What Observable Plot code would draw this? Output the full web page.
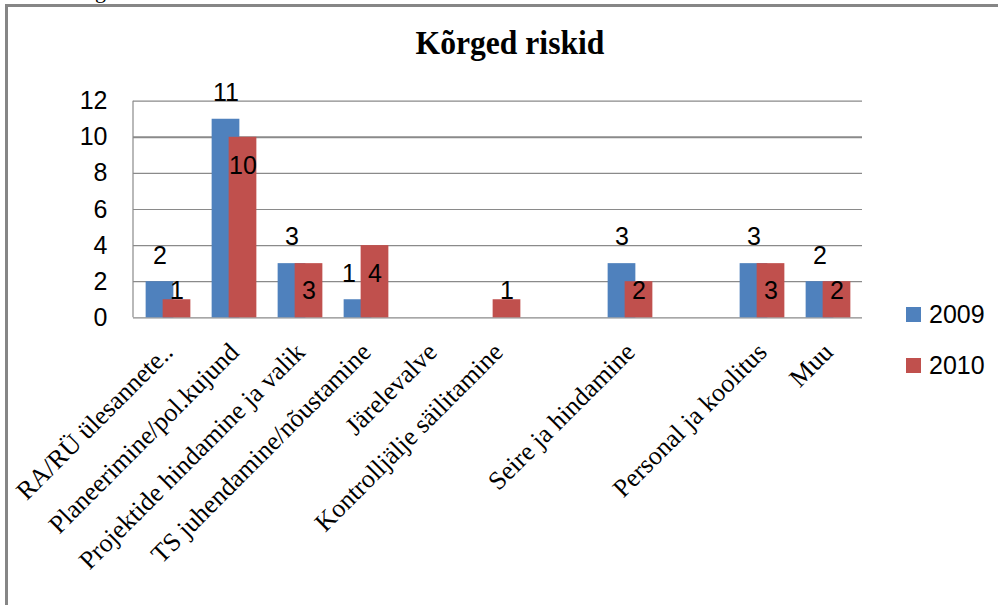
<!DOCTYPE html>
<html><head><meta charset="utf-8">
<script src="https://cdn.jsdelivr.net/npm/d3@7"></script>
<script src="https://cdn.jsdelivr.net/npm/@observablehq/plot@0.6"></script>
<style>
body{margin:0;background:#fff;}
#wrap{position:relative;width:998px;height:605px;overflow:hidden;background:#fff;}
#border{position:absolute;left:5px;top:4px;width:1100px;height:700px;border-left:3px solid #868686;border-top:3px solid #868686;}
#frag{position:absolute;left:95px;top:-22px;font:22px "Liberation Serif";color:#000;}
#title{position:absolute;left:0;width:1020px;top:24px;text-align:center;font:bold 34px "Liberation Serif";color:#000;transform:scaleX(0.93);transform-origin:510px 0;}
#plot{position:absolute;left:0;top:0;}
.leg{position:absolute;left:906px;font:25px "Liberation Sans";color:#000;display:flex;align-items:center;}
.leg span.sw{display:inline-block;width:15px;height:15px;margin-right:8px;}
</style></head>
<body><div id="wrap"><div id="border"></div><div id="frag">g</div><div id="title">Kõrged riskid</div><div id="plot"></div>
<div class="leg" style="top:300px"><span class="sw" style="background:#4F81BD"></span>2009</div>
<div class="leg" style="top:351px"><span class="sw" style="background:#C0504D"></span>2010</div>
</div>
<script>
const categories = ["RA/RÜ ülesannete..", "Planeerimine/pol.kujund", "Projektide hindamine ja valik", "TS juhendamine/nõustamine", "Järelevalve", "Kontrolljälje säilitamine", " ", "Seire ja hindamine", "  ", "Personal ja koolitus", "Muu"];
const values2009 = [2, 11, 3, 1, 0, null, null, 3, null, 3, 2];
const values2010 = [1, 10, 3, 4, 0, 1, null, 2, null, 3, 2];
const yTicks = [0, 2, 4, 6, 8, 10, 12];
const seriesNames = ["2009", "2010"];

const lab09 = v => v + 1.45;
const lab10 = v => Math.max(v - 1.6, 1.5);

const rows = [];
categories.forEach((c, i) => {
  const a = values2009[i], b = values2010[i];
  const clash = a > 0 && b > 0 && Math.abs(lab09(a) - lab10(b)) < 1;
  rows.push({cat: c, series: seriesNames[0], v: a, clash});
  rows.push({cat: c, series: seriesNames[1], v: b, clash});
});
const r09 = rows.filter(d => d.series === "2009" && d.v != null && d.v > 0);
const r10 = rows.filter(d => d.series === "2010" && d.v != null && d.v > 0);

const W = 998, H = 605, mL = 133, mR = 136, mT = 100.7, mB = 287.7;
const band = (W - mL - mR) / categories.length;
const barW = 28, off = 8.5;
const insOuter = band / 2 - off - barW / 2;
const insInner = band - barW - insOuter;

const plot = Plot.plot({
  width: W, height: H,
  marginLeft: mL, marginRight: mR, marginTop: mT, marginBottom: mB,
  x: {type: "band", domain: categories, padding: 0, label: null},
  y: {domain: [0, 12], label: null},
  style: {background: "transparent", overflow: "visible"},
  marks: [
    Plot.ruleY(yTicks, {stroke: "#8a8a8a", strokeWidth: d => d === 10 ? 2 : 1.2}),
    Plot.barY(r09, {x: "cat", y: "v", fill: "#4F81BD", insetLeft: insOuter, insetRight: insInner}),
    Plot.barY(r10, {x: "cat", y: "v", fill: "#C0504D", insetLeft: insInner, insetRight: insOuter}),
    Plot.text(r09.filter(d => !d.clash), {x: "cat", y: d => lab09(d.v), text: d => String(d.v), dx: -off, fontSize: 25, fontFamily: "Liberation Sans", fill: "#000"}),
    Plot.text(r09.filter(d => d.clash), {x: "cat", y: d => lab09(d.v), text: d => String(d.v), dx: -off - 9, fontSize: 25, fontFamily: "Liberation Sans", fill: "#000"}),
    Plot.text(r10, {x: "cat", y: d => lab10(d.v), text: d => String(d.v), dx: off, fontSize: 25, fontFamily: "Liberation Sans", fill: "#000"}),
    Plot.axisY({ticks: yTicks, tickSize: 0, tickPadding: 26, fontSize: 25, fontFamily: "Liberation Sans", fill: "#000"}),
    Plot.axisX({tickRotate: -45, tickSize: 0, tickPadding: 30, fontSize: 26, fontFamily: "Liberation Serif", fill: "#000", tickFormat: d => d.trim()})
  ]
});
document.getElementById("plot").appendChild(plot);
const ys = plot.scale("y");
d3.select(plot).append("line")
  .attr("x1", mL).attr("x2", mL)
  .attr("y1", ys.apply(0)).attr("y2", ys.apply(12))
  .attr("stroke", "#8a8a8a").attr("stroke-width", 1.2);
</script></body></html>
